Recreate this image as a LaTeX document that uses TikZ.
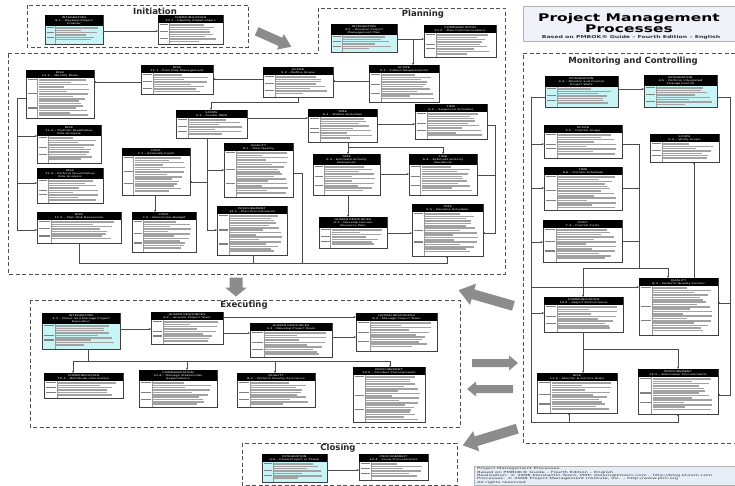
\documentclass[tikz,border=0pt]{standalone}
\usepackage{fontspec}
\setmainfont{DejaVu Sans}
\usetikzlibrary{arrows.meta}

\definecolor{integfill}{HTML}{C8F4F6}
\definecolor{bargray}{HTML}{A2A2A2}
\definecolor{arrowgray}{HTML}{8C8C8C}
\definecolor{framegray}{HTML}{505050}
\definecolor{titlefill}{HTML}{EFF2F8}
\definecolor{footfill}{HTML}{E7EDF6}

\tikzset{
  phaseframe/.style={draw=framegray, line width=0.6pt, dash pattern=on 4pt off 2.5pt},
  phase/.style={font=\bfseries\fontsize{8.5}{9}\selectfont, text=black!85, inner sep=0pt},
  procbody/.style={draw=black!75, line width=0.4pt, rectangle, inner sep=0pt, outer sep=0pt},
  prochead/.style={text=white, font=\fontsize{3.6}{4.5}\selectfont, align=center, inner sep=0pt, yscale=0.65},
  procrule/.style={draw=black!40, line width=0.25pt},
  procbar/.style={fill=bargray},
  procmark/.style={fill=black!50},
  flow/.style={draw=black!70, line width=0.35pt, -{Stealth[length=2.2pt,width=2pt]}},
  link/.style={draw=black!70, line width=0.35pt},
}

% one process box: name, x1, y1, x2, y2, body fill, header lines, header text
\newcommand{\procbox}[8]{%
  \pgfmathsetmacro{\hh}{#7*3+2}%
  \pgfmathsetmacro{\lw}{(#4-#2)*0.17}%
  \pgfmathtruncatemacro{\nb}{(#5-#3-\hh-2)/2.35}%
  \pgfmathtruncatemacro{\sb}{round(\nb*0.4)}%
  \pgfmathtruncatemacro{\sc}{round(\nb*0.72)}%
  \node[procbody, fill=#6, minimum width=#4pt-#2pt, minimum height=#5pt-#3pt, anchor=north west] (#1) at (#2,#3) {};
  \fill[black] (#2,#3) rectangle (#4,{#3+\hh});
  \node[prochead] at ({(#2+#4)/2},{#3+\hh/2}) {#8};
  \draw[procrule] ({#2+\lw},{#3+\hh}) -- ({#2+\lw},#5);
  \foreach \i in {1,...,\nb} {
    \pgfmathsetmacro{\by}{#3+\hh+1.2+(\i-1)*2.35}
    \pgfmathsetmacro{\bl}{0.45+0.5*abs(sin(\i*83+#2*7+#3*3))}
    \fill[procbar] ({#2+\lw+1},\by) rectangle ({#2+\lw+1+\bl*(#4-#2-\lw-3.5)},{\by+1.55});
  }
  \foreach \r in {0,\sb,\sc} {
    \pgfmathsetmacro{\my}{#3+\hh+1.2+\r*2.35}
    \fill[procmark] ({#2+1.5},\my) rectangle ({#2+\lw-1},{\my+1.2});
  }
}

% big grey arrow: cx, cy, angle, length, shaft, head width, head length
\newcommand{\phasearrow}[7]{%
  \fill[arrowgray, shift={(#1,#2)}, rotate=#3]
    ({-#4/2},{-#5/2}) -- ({#4/2-#7},{-#5/2}) -- ({#4/2-#7},{-#6/2}) -- ({#4/2},0)
    -- ({#4/2-#7},{#6/2}) -- ({#4/2-#7},{#5/2}) -- ({-#4/2},{#5/2}) -- cycle;}

\begin{document}
\begin{tikzpicture}[x=1pt, y=-1pt]
\useasboundingbox (0,0) rectangle (735,486);

% title block
\draw[draw=black!30, fill=titlefill, line width=0.5pt] (523,6) rectangle (735,41);
\node[font=\bfseries\fontsize{15.5}{16}\selectfont, yscale=0.68, inner sep=0pt] (ttl) at (629,19) {Project Management};
\node[font=\bfseries\fontsize{15.5}{16}\selectfont, yscale=0.68, inner sep=0pt] (ttl2) at (629,29) {Processes};
\node[font=\bfseries\fontsize{6.2}{7}\selectfont, yscale=0.65, text=black!80, inner sep=0pt] (sub) at (631,37) {Based on PMBOK® Guide – Fourth Edition – English};

% phase frames
\draw[phaseframe] (27,5) rectangle (248,47);
\node[phase] (tini) at (155,11) {Initiation};
\draw[phaseframe] (8,53) -- (318,53) -- (318,8) -- (505,8) -- (505,274) -- (8,274) -- cycle;
\node[phase] (tpla) at (423,14) {Planning};
\draw[phaseframe] (30,300) rectangle (460,427);
\node[phase] (texe) at (244,305) {Executing};
\draw[phaseframe] (735,53) -- (523,53) -- (523,443) -- (735,443);
\node[phase] (tmon) at (633,61) {Monitoring and Controlling};
\draw[phaseframe] (242,443) rectangle (457,485);
\node[phase] (tclo) at (338,448) {Closing};

% initiation
\procbox{pc}{45}{15}{103}{44}{integfill}{3}{INTEGRATION\\4.1 – Develop Project\\Charter}
\procbox{is}{158}{15}{223}{44}{white}{2}{COMMUNICATION\\10.1 – Identify Stakeholders}

% planning
\procbox{pm}{331}{24}{397}{52}{integfill}{3}{INTEGRATION\\4.2 – Develop Project\\Management Plan}
\procbox{pcm}{424}{25}{496}{57}{white}{2}{COMMUNICATION\\10.2 – Plan Communications}
\procbox{cr}{369}{65}{439}{102}{white}{2}{SCOPE\\5.1 – Collect Requirements}
\procbox{ds}{263}{67}{333}{97}{white}{2}{SCOPE\\5.2 – Define Scope}
\procbox{prm}{141}{65}{213}{94}{white}{2}{RISK\\11.1 – Plan Risk Management}
\procbox{ir}{26}{70}{94}{118}{white}{2}{RISK\\11.2 – Identify Risks}
\procbox{wbs}{176}{110}{247}{138}{white}{2}{SCOPE\\5.3 – Create WBS}
\procbox{da}{308}{109}{377}{142}{white}{2}{TIME\\6.1 – Define Activities}
\procbox{sa}{415}{104}{487}{139}{white}{2}{TIME\\6.2 – Sequence Activities}
\procbox{qlr}{37}{125}{101}{163}{white}{3}{RISK\\11.3 – Perform Qualitative\\Risk Analysis}
\procbox{qnr}{37}{168}{103}{203}{white}{3}{RISK\\11.4 – Perform Quantitative\\Risk Analysis}
\procbox{ec}{122}{148}{190}{195}{white}{2}{COST\\7.1 – Estimate Costs}
\procbox{pq}{224}{143}{293}{197}{white}{2}{QUALITY\\8.1 – Plan Quality}
\procbox{ear}{313}{154}{380}{195}{white}{3}{TIME\\6.3 – Estimate Activity\\Resources}
\procbox{ead}{409}{154}{477}{195}{white}{3}{TIME\\6.4 – Estimate Activity\\Durations}
\procbox{prr}{37}{212}{121}{243}{white}{2}{RISK\\11.5 – Plan Risk Responses}
\procbox{db}{132}{212}{196}{252}{white}{2}{COST\\7.2 – Determine Budget}
\procbox{pp}{217}{206}{287}{255}{white}{2}{PROCUREMENT\\12.1 – Plan Procurements}
\procbox{hrp}{319}{217}{387}{248}{white}{3}{HUMAN RESOURCES\\9.1 – Develop Human\\Resource Plan}
\procbox{dsch}{412}{204}{483}{256}{white}{2}{TIME\\6.5 – Develop Schedule}

% executing
\procbox{dme}{42}{313}{120}{349}{integfill}{3}{INTEGRATION\\4.3 – Direct and Manage Project\\Execution}
\procbox{apt}{151}{312}{223}{344}{white}{2}{HUMAN RESOURCES\\9.2 – Acquire Project Team}
\procbox{dpt}{250}{323}{332}{357}{white}{2}{HUMAN RESOURCES\\9.3 – Develop Project Team}
\procbox{mpt}{356}{313}{437}{351}{white}{2}{HUMAN RESOURCES\\9.4 – Manage Project Team}
\procbox{di}{44}{373}{123}{398}{white}{2}{COMMUNICATION\\10.3 – Distribute Information}
\procbox{mse}{139}{370}{217}{407}{white}{3}{COMMUNICATION\\10.4 – Manage Stakeholder\\Expectations}
\procbox{pqa}{237}{373}{315}{407}{white}{2}{QUALITY\\8.2 – Perform Quality Assurance}
\procbox{cp}{353}{367}{425}{422}{white}{2}{PROCUREMENT\\12.2 – Conduct Procurements}

% monitoring and controlling
\procbox{mcw}{545}{76}{618}{107}{integfill}{3}{INTEGRATION\\4.4 – Monitor and Control\\Project Work}
\procbox{icc}{644}{75}{717}{107}{integfill}{3}{INTEGRATION\\4.5 – Perform Integrated\\Change Control}
\procbox{cs}{544}{125}{622}{158}{white}{2}{SCOPE\\5.5 – Control Scope}
\procbox{vs}{650}{134}{719}{162}{white}{2}{SCOPE\\5.4 – Verify Scope}
\procbox{csch}{544}{167}{622}{210}{white}{2}{TIME\\6.6 – Control Schedule}
\procbox{cc}{543}{220}{622}{262}{white}{2}{COST\\7.3 – Control Costs}
\procbox{pqc}{639}{278}{718}{335}{white}{2}{QUALITY\\8.3 – Perform Quality Control}
\procbox{rp}{544}{297}{623}{332}{white}{2}{COMMUNICATION\\10.5 – Report Performance}
\procbox{mcr}{537}{373}{617}{413}{white}{2}{RISK\\11.6 – Monitor \& Control Risks}
\procbox{ap}{638}{369}{718}{414}{white}{2}{PROCUREMENT\\12.3 – Administer Procurements}

% closing
\procbox{cpp}{262}{454}{327}{482}{integfill}{2}{INTEGRATION\\4.6 – Close Project or Phase}
\procbox{cpr}{359}{454}{428}{480}{white}{2}{PROCUREMENT\\12.4 – Close Procurements}

% connectors: initiation
\draw[flow] (pc.east |- 0,31) -- (is.west |- 0,31);

% connectors: planning
\coordinate (pmj) at (413,39);
\draw[flow] (pm.east |- pmj) -- (pcm.west |- pmj);
\draw[flow] (pmj) -- (pmj |- cr.north);
\draw[flow] (cr.west |- 0,81) -- (ds.east |- 0,81);
\draw[flow] (ds.west |- 0,79) -- (prm.east |- 0,79);
\draw[flow] (prm.west |- 0,82) -- (ir.east |- 0,82);
\draw[flow] (ds.south -| 298,0) -- ++(0,5) -| (wbs.north -| 211,0);
\draw[flow] (wbs.east |- 0,118) -- (da.west |- 0,118);
\draw[flow] (da.east |- 0,124) -- (sa.west |- 0,124);
\draw[flow] (da.south -| 348,0) -- (ear.north -| 348,0);
\draw[flow] (da.south -| 348,0) -- ++(0,5) -| (ead.north -| 443,0);
\draw[flow] (ear.east |- 0,174) -- (ead.west |- 0,174);
\draw[flow] (ear.south -| 348,0) -- (hrp.north -| 348,0);
\draw[flow] (hrp.east |- 0,233) -- (dsch.west |- 0,233);
\draw[flow] (sa.east |- 0,125) -- ++(8,0) |- (dsch.east |- 0,233);
\draw[link] (ead.east |- 0,175) -- ++(18,0);
\draw[flow] (wbs.south -| 207,0) |- (pq.west |- 0,170);
\draw[flow] (wbs.south -| 207,0) |- (ec.east |- 0,182);
\draw[flow] (wbs.south -| 207,0) |- (pp.west |- 0,230);
\draw[flow] (ec.south -| 155,0) -- (db.north -| 155,0);
\coordinate (irbus) at (17,98);
\draw[link] (ir.west |- irbus) -- (irbus);
\draw[flow] (irbus) |- (qlr.west |- 0,136);
\draw[flow] (irbus) |- (qnr.west |- 0,183);
\draw[flow] (irbus) |- (prr.west |- 0,230);
\coordinate (plbus) at (79,263);
\draw[flow] (prr.south -| plbus) -- (plbus) -| (dsch.south -| 447,0);
\draw[link] (pp.south -| 253,0) -- (plbus -| 253,0);
\draw[link] (pq.east |- 0,173) -| (plbus -| 302,0);

% connectors: executing
\draw[flow] (dme.east |- 0,329) -- (apt.west |- 0,329);
\draw[flow] (apt.east |- 0,317) -- (mpt.west |- 0,317);
\draw[flow] (apt.east |- 0,333) -- (dpt.west |- 0,333);
\draw[flow] (dpt.east |- 0,337) -- (mpt.west |- 0,337);
\coordinate (exbus) at (88,361);
\draw[link] (dme.south -| exbus) -- (exbus);
\draw[flow] (exbus) -| (di.north -| 73,0);
\draw[flow] (exbus) -| (mse.north -| 187,0);
\draw[flow] (exbus) -| (pqa.north -| 275,0);
\draw[flow] (exbus) -| (cp.north -| 390,0);

% connectors: monitoring and controlling
\draw[flow] (mcw.east |- 0,89) -- (icc.west |- 0,89);
\coordinate (mcl) at (531,97);
\draw[link] (mcw.west |- mcl) -- (mcl);
\draw[flow] (mcl) |- (cs.west |- 0,144);
\draw[flow] (mcl) |- (csch.west |- 0,188);
\draw[flow] (mcl) |- (cc.west |- 0,242);
\draw[flow] (mcl) |- (pqc.west |- 0,287);
\draw[flow] (mcl) |- (rp.west |- 0,313);
\draw[flow] (mcl) |- (569,422) -- (mcr.south -| 569,0);
\draw[flow] (mcl) |- (678,422) -- (ap.south -| 678,0);
\coordinate (mcrt) at (730,97);
\draw[link] (icc.east |- mcrt) -- (mcrt);
\draw[flow] (mcrt) |- (pqc.east |- 0,303);
\draw[flow] (mcrt) |- (ap.east |- 0,395);
\coordinate (ctl) at (639,144);
\coordinate (ctlb) at (639,268);
\draw[link] (cs.east |- ctl) -- (ctl) -- (ctlb);
\draw[link] (csch.east |- 0,188) -- (ctl |- 0,188);
\draw[link] (cc.east |- 0,241) -- (ctl |- 0,241);
\draw[flow] (ctlb) -| (rp.north -| 583,0);
\draw[flow] (ctlb) -| (pqc.north -| 668,0);
\draw[flow] (pqc.north -| 694,0) -- (vs.south -| 694,0);
\draw[flow] (rp.south -| 583,0) -- (mcr.north -| 583,0);
\draw[flow] (rp.south -| 583,0) -- ++(0,17) -| (ap.north -| 678,0);

% connectors: closing
\draw[flow] (cpp.east |- 0,470) -- (cpr.west |- 0,470);

% process group arrows
\phasearrow{274}{39}{-24}{38}{9}{17}{12}
\phasearrow{236}{287}{-90}{19}{13}{22}{9}
\phasearrow{486}{298}{164}{57}{10}{22}{15}
\phasearrow{495}{363}{0}{46}{8}{15}{9}
\phasearrow{490}{389}{180}{46}{8}{15}{9}
\phasearrow{490}{437}{197}{57}{10}{21}{14}

% footer
\draw[draw=black!30, fill=footfill, line width=0.4pt] (474,466) rectangle (735,485);
\node[anchor=north west, align=left, inner sep=0pt, yscale=0.53, text=black!80,
  font=\fontsize{5.3}{6.3}\selectfont] (foot) at (477,467.5) {Project Management Processes\\
  Based on PMBOK® Guide – Fourth Edition – English\\
  Realization: © 2008 Konstantin Toorn, PMP, ktoorn@ktoorn.com – http://blog.ktoorn.com\\
  Processes: © 2008 Project Management Institute, Inc. – http://www.pmi.org\\
  All rights reserved};
\end{tikzpicture}
\end{document}
